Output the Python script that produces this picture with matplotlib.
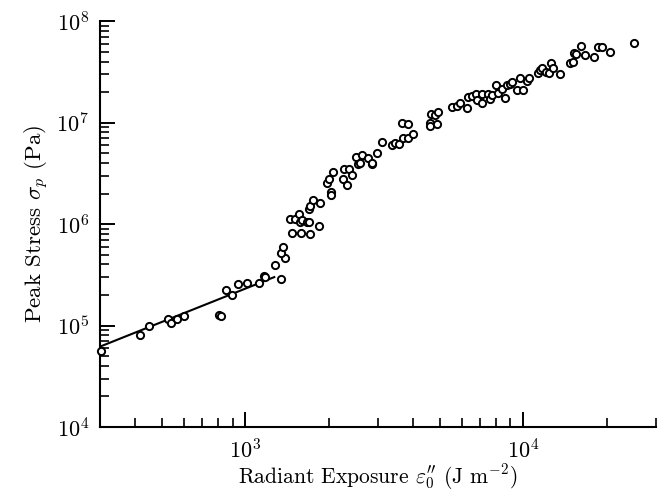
import matplotlib

matplotlib.use("Agg")
import matplotlib.pyplot as plt
from matplotlib.ticker import LogLocator, NullFormatter

plt.rcParams["font.family"] = "serif"
plt.rcParams["font.serif"] = ["cmr10", "DejaVu Serif"]
plt.rcParams["mathtext.fontset"] = "cm"
plt.rcParams["axes.formatter.use_mathtext"] = True

# radiant exposure (J m^-2) and peak stress (Pa)
exposure = [
    301, 418, 448, 528, 539, 568, 600, 801, 820, 850,
    896, 938, 1014, 1120, 1170, 1177, 1274, 1348, 1385, 1340,
    1362, 1468, 1586, 1703, 1841, 1448, 1513, 1561, 1574, 1603,
    1667, 1690, 1695, 1709, 1756, 1862, 2039, 2039, 1961, 2061,
    2005, 2265, 2366, 2420, 2239, 2314, 2502, 2620, 2535, 2577,
    2763, 2847, 2863, 2985, 3106, 3372, 3465, 3567, 3665, 3857,
    3701, 3842, 4010, 4611, 4620, 4913, 4676, 4806, 4955, 5556,
    5766, 5911, 6262, 6350, 6517, 6776, 6845, 7080, 7080, 7478,
    7591, 7737, 7989, 8089, 8404, 8616, 8744, 8935, 9130, 9500,
    9960, 9754, 10280, 10510, 11340, 11480, 11730, 12100, 12400, 12610,
    12820, 13620, 14740, 15170, 15290, 15510, 16170, 16690, 18040, 18530,
    19160, 20590, 25070,
]
peak_stress = [
    5.61e4, 8.00e4, 1.00e5, 1.15e5, 1.07e5, 1.17e5, 1.23e5, 1.27e5, 1.25e5, 2.22e5,
    2.01e5, 2.56e5, 2.61e5, 2.61e5, 3.10e5, 2.99e5, 3.92e5, 2.87e5, 4.66e5, 5.21e5,
    5.93e5, 8.21e5, 8.10e5, 7.97e5, 9.62e5, 1.11e6, 1.11e6, 1.26e6, 1.04e6, 1.09e6,
    1.05e6, 1.06e6, 1.41e6, 1.50e6, 1.72e6, 1.60e6, 2.08e6, 1.93e6, 2.55e6, 3.23e6,
    2.78e6, 3.51e6, 3.46e6, 3.06e6, 2.79e6, 2.44e6, 4.60e6, 4.75e6, 3.87e6, 3.96e6,
    4.50e6, 3.87e6, 4.04e6, 4.97e6, 6.50e6, 6.04e6, 6.25e6, 6.10e6, 9.89e6, 9.73e6,
    7.03e6, 7.03e6, 7.70e6, 9.82e6, 9.30e6, 9.67e6, 1.21e7, 1.19e7, 1.28e7, 1.44e7,
    1.45e7, 1.57e7, 1.39e7, 1.78e7, 1.81e7, 1.90e7, 1.69e7, 1.92e7, 1.57e7, 1.92e7,
    1.70e7, 1.86e7, 2.37e7, 1.98e7, 2.14e7, 1.73e7, 2.36e7, 2.38e7, 2.52e7, 2.11e7,
    2.10e7, 2.73e7, 2.55e7, 2.73e7, 3.09e7, 3.29e7, 3.48e7, 3.14e7, 3.12e7, 3.90e7,
    3.47e7, 3.04e7, 3.90e7, 3.97e7, 4.84e7, 4.70e7, 5.71e7, 4.66e7, 4.39e7, 5.54e7,
    5.52e7, 4.99e7, 6.11e7,
]

# low-exposure fit line
fit_x = [300, 1270]
fit_y = [6.2e4, 3.0e5]

fig = plt.figure(figsize=(6.59, 4.93), dpi=100)
ax = fig.add_axes([0.152, 0.134, 0.843, 0.823])

ax.plot(fit_x, fit_y, color="black", linewidth=1.5, zorder=2)
ax.plot(
    exposure,
    peak_stress,
    linestyle="none",
    marker="o",
    markersize=5.2,
    markerfacecolor="white",
    markeredgecolor="black",
    markeredgewidth=1.4,
    zorder=3,
    clip_on=False,
)

ax.set_xscale("log")
ax.set_yscale("log")
ax.set_xlim(300, 3e4)
ax.set_ylim(1e4, 1e8)

ax.xaxis.set_major_locator(LogLocator(base=10, numticks=10))
ax.xaxis.set_minor_locator(LogLocator(base=10, subs=range(2, 10), numticks=10))
ax.yaxis.set_major_locator(LogLocator(base=10, numticks=10))
ax.yaxis.set_minor_locator(LogLocator(base=10, subs=range(2, 10), numticks=10))
ax.xaxis.set_minor_formatter(NullFormatter())
ax.yaxis.set_minor_formatter(NullFormatter())

for side in ("top", "right"):
    ax.spines[side].set_visible(False)
for side in ("left", "bottom"):
    ax.spines[side].set_linewidth(1.5)

ax.tick_params(which="major", direction="in", length=11, width=1.4, labelsize=16, pad=8)
ax.tick_params(which="minor", direction="in", length=6.5, width=1.2)

ax.set_xlabel(r"Radiant Exposure $\varepsilon_0''$ (J m$^{-2}$)", fontsize=15.5, labelpad=0)
ax.set_ylabel(r"Peak Stress $\sigma_p$ (Pa)", fontsize=16.5, labelpad=4)

fig.savefig("out.png", dpi=100)
